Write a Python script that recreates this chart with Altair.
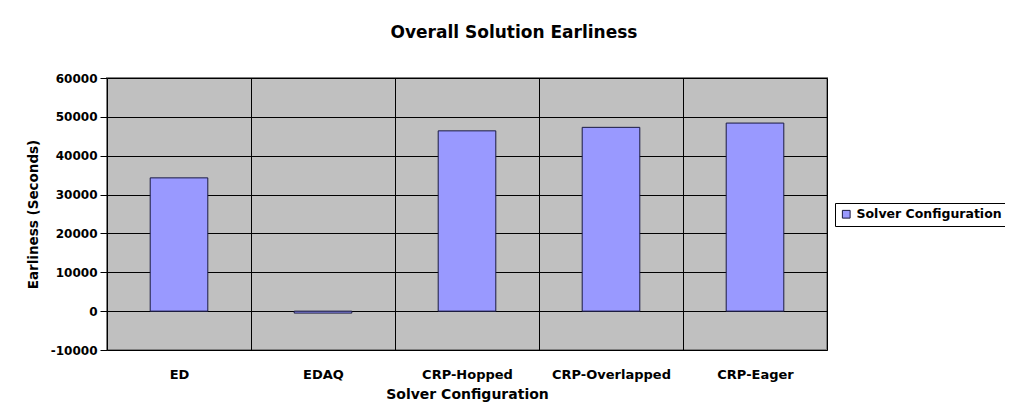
import altair as alt
import pandas as pd

categories = ["ED", "EDAQ", "CRP-Hopped", "CRP-Overlapped", "CRP-Eager"]
earliness = [34300, -500, 46400, 47300, 48400]
series = ["Solver Configuration"] * len(categories)
y_ticks = [-10000, 0, 10000, 20000, 30000, 40000, 50000, 60000]

df = pd.DataFrame({"config": categories, "earliness": earliness, "series": series})

FONT = "DejaVu Sans"

bars = alt.Chart(df).mark_bar(
    width=alt.RelativeBandSize(0.4), stroke="#1a1a40", strokeWidth=1
).encode(
    x=alt.X("config:N", sort=categories,
            scale=alt.Scale(paddingInner=0, paddingOuter=0),
            axis=alt.Axis(title="Solver Configuration", labelAngle=0, ticks=False,
                          domain=False, grid=True, tickBand="extent",
                          gridColor="#000000", gridOpacity=1, gridWidth=1,
                          labelPadding=18, titlePadding=6,
                          labelFont=FONT, labelFontSize=13, labelFontWeight="bold",
                          labelColor="#000",
                          titleFont=FONT, titleFontSize=14, titleFontWeight="bold",
                          titleColor="#000")),
    y=alt.Y("earliness:Q",
            scale=alt.Scale(domain=[-10000, 60000], nice=False),
            axis=alt.Axis(title="Earliness (Seconds)", values=y_ticks,
                          labelExpr="'' + datum.value",
                          grid=True, gridColor="#000000", gridOpacity=1, gridWidth=1,
                          tickColor="#000", tickSize=7, domain=False,
                          labelPadding=3, titlePadding=10,
                          labelFont=FONT, labelFontSize=12, labelFontWeight="bold",
                          labelColor="#000",
                          titleFont=FONT, titleFontSize=13.5, titleFontWeight="bold",
                          titleColor="#000")),
    color=alt.Color("series:N",
                    scale=alt.Scale(range=["#9999FF"]),
                    legend=alt.Legend(title=None, orient="none", legendX=728, legendY=125,
                                      symbolType="square", symbolSize=60,
                                      symbolStrokeColor="#1a1a40", symbolStrokeWidth=1,
                                      labelFont=FONT, labelFontSize=12.5,
                                      labelFontWeight="bold", labelColor="#000",
                                      strokeColor="#000", fillColor="#ffffff",
                                      padding=5)),
)

chart = bars.properties(
    width=720,
    height=272,
    title=alt.TitleParams("Overall Solution Earliness", font=FONT, fontSize=17,
                          fontWeight="bold", color="#000", anchor="middle",
                          dx=47, offset=30),
    autosize=alt.AutoSizeParams(type="none"),
    padding={"left": 99, "top": 70, "right": 178, "bottom": 65},
    background="#ffffff",
).configure_view(
    fill="#C0C0C0", stroke="#808080", strokeWidth=2
)

chart.save("out.html", embed_options={"renderer": "svg", "actions": False})
